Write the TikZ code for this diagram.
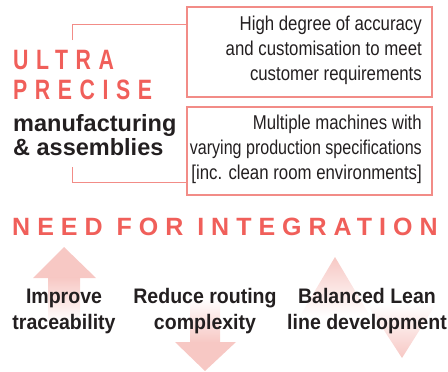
\documentclass[tikz,border=0pt]{standalone}
\usepackage{fontspec}
\usetikzlibrary{calc}
\setmainfont{Liberation Sans}
\newfontfamily\narfont{Liberation Sans}[FakeStretch=0.84]
\newfontfamily\lblfont{Liberation Sans}[FakeStretch=0.93]
\newfontfamily\trkfont{Liberation Sans}[FakeStretch=0.76,LetterSpace=27]
\newfontfamily\trkbfont{Liberation Sans}[LetterSpace=28]
\definecolor{pk}{RGB}{247,200,196}
\definecolor{redt}{RGB}{240,95,90}
\definecolor{boxc}{RGB}{242,140,135}
\definecolor{txt}{RGB}{35,31,32}
\tikzset{
  infobox/.style={draw=boxc, line width=1.2pt, inner sep=0pt, minimum width=245pt},
  boxtext/.style={align=right, inner sep=0pt, anchor=east, text=txt,
    font=\narfont\fontsize{20}{25}\selectfont},
  lbl/.style={align=center, inner sep=0pt, text=txt,
    font=\lblfont\bfseries\fontsize{21}{26}\selectfont},
  bigred/.style={inner sep=0pt, anchor=base west, text=redt,
    font=\trkfont\bfseries\fontsize{28}{30}\selectfont},
  blackbig/.style={inner sep=0pt, anchor=base west, text=txt,
    font=\bfseries\fontsize{23.5}{24}\selectfont},
  conn/.style={draw=boxc, line width=1pt}
}
\begin{document}
\begin{tikzpicture}[x=1pt,y=-1pt]
\useasboundingbox (0,0) rectangle (448,372);
% arrows
\fill[pk] (33,278) -- (64,247) -- (96,278) -- cycle;
\shade[top color=pk, bottom color=white] (48,277.5) rectangle (80,322);
\shade[top color=white, bottom color=pk] (190,298) rectangle (220,342.5);
\fill[pk] (175,342) -- (236,342) -- (205,371) -- cycle;
\shade[top color=pk, bottom color=white] (300,316) -- (335,257) -- (370,316) -- cycle;
\shade[top color=white, bottom color=pk] (367,304) -- (436,304) -- (402,358) -- cycle;
% boxes
\node[infobox, minimum height=90pt] (b1) at (309.5,52) {};
\node[infobox, minimum height=88pt] (b2) at (309.5,151) {};
\node[boxtext] (b1t) at (422,50)
  {High degree of accuracy\\and customisation to meet\\customer requirements};
\node[boxtext] (b2t) at (422,149)
  {Multiple machines with\\\scalebox{0.955}[1]{varying production specifications}\\{[}inc. clean room environments{]}};
% connectors
\coordinate (c1) at (72,40);
\coordinate (c2) at (72,167);
\draw[conn] (c1) |- ($(b1.north west)!0.2!(b1.south west)$);
\draw[conn] (c2) |- ($(b2.north west)!0.85!(b2.south west)$);
% left titles
\node[bigred] (t1) at (13,69) {ULTRA};
\node[bigred] (t2) at (13,99) {PRECISE};
\node[blackbig] (t3) at (13,131) {manufacturing};
\node[blackbig] (t4) at (13,155) {\& assemblies};
\node[inner sep=0pt, anchor=base west, text=redt, font=\trkbfont\bfseries\fontsize{25}{26}\selectfont] (need) at (12,235) {NEED FOR INTEGRATION};
% labels
\node[lbl] (l1) at (64,311) {Improve\\traceability};
\node[lbl] (l2) at (205,311) {Reduce routing\\complexity};
\node[lbl] (l3) at (367,311) {Balanced Lean\\line development};
\end{tikzpicture}
\end{document}
